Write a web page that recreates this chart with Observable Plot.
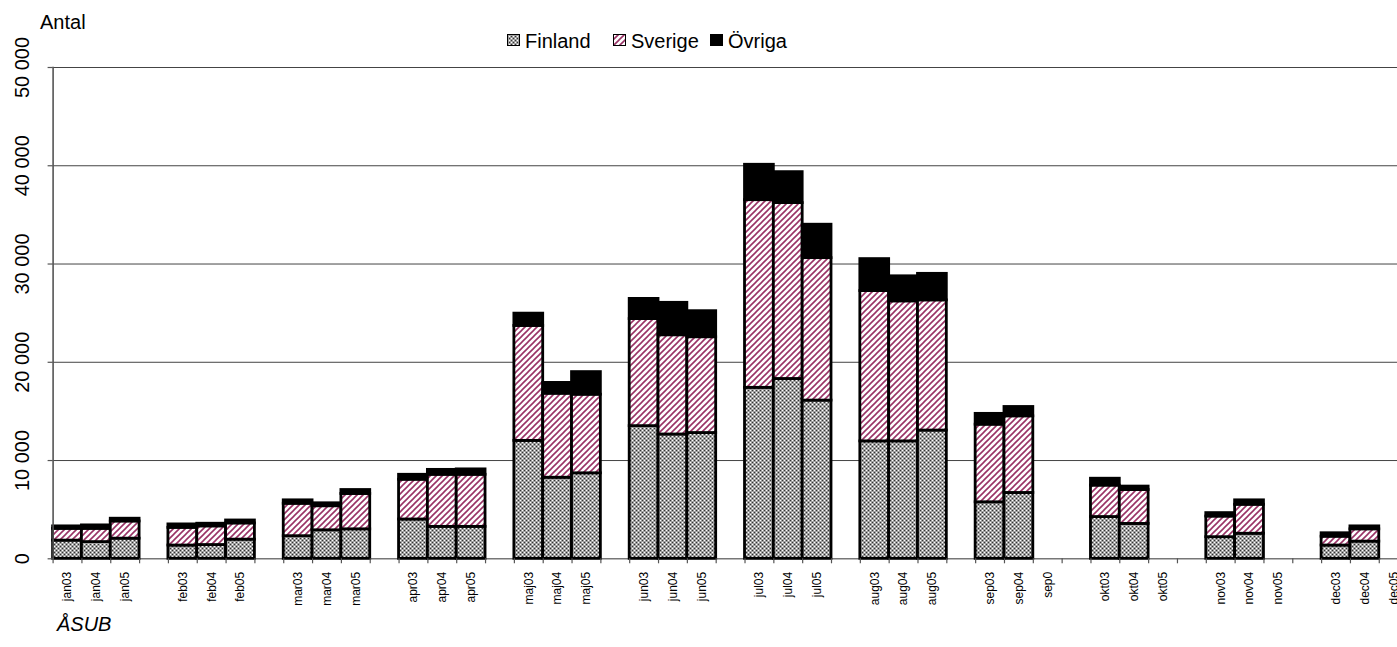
<!DOCTYPE html>
<html>
<head>
<meta charset="utf-8">
<script src="https://cdn.jsdelivr.net/npm/d3@7"></script>
<script src="https://cdn.jsdelivr.net/npm/@observablehq/plot@0.6"></script>
<style>
  html, body { margin: 0; padding: 0; background: #fff; }
  #wrap { position: relative; width: 1397px; height: 647px; overflow: hidden; font-family: "Liberation Sans", Arial, sans-serif; color: #000; }
  .lbl { position: absolute; font-size: 20px; line-height: 20px; white-space: nowrap; }
  .item { position: absolute; top: 30.8px; font-size: 20px; line-height: 20px; white-space: nowrap; display: flex; align-items: flex-start; }
</style>
</head>
<body>
<div id="wrap"></div>
<script>
// ---- data ----
const categories = [
  "jan03","jan04","jan05","g1",
  "feb03","feb04","feb05","g2",
  "mar03","mar04","mar05","g3",
  "apr03","apr04","apr05","g4",
  "maj03","maj04","maj05","g5",
  "jun03","jun04","jun05","g6",
  "jul03","jul04","jul05","g7",
  "aug03","aug04","aug05","g8",
  "sep03","sep04","sep05","g9",
  "okt03","okt04","okt05","g10",
  "nov03","nov04","nov05","g11",
  "dec03","dec04","dec05"
];
const tickLabels = [
  "jan03","jan04","jan05","",
  "feb03","feb04","feb05","",
  "mar03","mar04","mar05","",
  "apr03","apr04","apr05","",
  "maj03","maj04","maj05","",
  "jun03","jun04","jun05","",
  "jul03","jul04","jul05","",
  "aug03","aug04","aug05","",
  "sep03","sep04","sep0","",
  "okt03","okt04","okt05","",
  "nov03","nov04","nov05","",
  "dec03","dec04","dec05"
];
const seriesNames = ["Finland", "Sverige", "Övriga"];
const finland = [1850,1700,2050,null, 1350,1400,1950,null, 2300,2900,3000,null, 4000,3250,3250,null,
  12000,8250,8700,null, 13500,12650,12800,null, 17400,18300,16100,null, 11950,11950,13050,null,
  5750,6700,null,null, 4250,3550,null,null, 2200,2550,null,null, 1350,1750,null];
const sverige = [1200,1350,1750,null, 1800,1900,1650,null, 3300,2450,3600,null, 4050,5300,5300,null,
  11700,8550,8000,null, 10900,10100,9750,null, 19100,17900,14500,null, 15300,14250,13250,null,
  7900,7800,null,null, 3200,3450,null,null, 2100,2950,null,null, 900,1250,null];
const ovriga = [250,350,280,null, 350,270,300,null, 350,300,400,null, 500,500,550,null,
  1250,1100,2300,null, 2050,3300,2650,null, 3600,3150,3400,null, 3250,2550,2700,null,
  1100,950,null,null, 700,350,null,null, 350,450,null,null, 350,300,null];
const yTicks = [0, 10000, 20000, 30000, 40000, 50000];
const yTickLabels = ["0", "10 000", "20 000", "30 000", "40 000", "50 000"];

// ---- build table ----
const seriesValues = [finland, sverige, ovriga];
const rows = [];
categories.forEach((c, i) => {
  seriesNames.forEach((s, k) => {
    const v = seriesValues[k][i];
    if (v != null && v > 0) rows.push({cat: c, series: s, value: v});
  });
});
const labelOf = new Map(categories.map((c, i) => [c, tickLabels[i]]));
const yLabelOf = new Map(yTicks.map((t, i) => [t, yTickLabels[i]]));

const W = 1397, H = 647;
const x0 = 52.6, x1 = 1407.6;
const bw = (x1 - x0) / categories.length;

const chart = Plot.plot({
  width: W,
  height: H,
  marginTop: 67,
  marginBottom: 88.7,
  marginLeft: x0,
  marginRight: 0,
  style: {fontFamily: "Liberation Sans, Arial, sans-serif", fontSize: "11.5px", color: "#000", background: "transparent"},
  x: {type: "band", domain: categories, range: [x0, x1], padding: 0, axis: null, label: null},
  y: {domain: [0, 50000], axis: null, label: null},
  color: {domain: seriesNames, range: ["url(#pFin)", "url(#pSve)", "#000"]},
  marks: [
    Plot.ruleY(yTicks.filter(t => t > 0), {y: d => d, stroke: "#444", strokeWidth: 1}),
    Plot.ruleY([0], {stroke: "#777", strokeWidth: 1.6}),
    Plot.barY(rows, {x: "cat", y: "value", fill: "series", stroke: "#000", strokeWidth: 2.8}),
    Plot.frame({anchor: "left", stroke: "#555", strokeWidth: 1.6}),
    Plot.axisY({ticks: yTicks, tickSize: 5, tickFormat: () => "", label: null, stroke: "#555", strokeWidth: 1.2}),
    Plot.text(yTicks, {y: d => d, text: d => yLabelOf.get(d), frameAnchor: "left", dx: -31, rotate: -90, textAnchor: "middle", lineAnchor: "middle", fontSize: 20}),
    Plot.axisX({ticks: categories, tickSize: 5, tickFormat: () => "", label: null, dx: -bw / 2, stroke: "#555", strokeWidth: 1.2}),
    Plot.axisX({ticks: categories, tickSize: 0, tickPadding: 13, tickRotate: -90, label: null, tickFormat: d => labelOf.get(d), fontSize: 12})
  ]
});

// patterns
const svg = d3.select(chart);
const defs = svg.insert("defs", ":first-child");
const pf = defs.append("pattern").attr("id", "pFin").attr("patternUnits", "userSpaceOnUse").attr("width", 4).attr("height", 4);
pf.append("rect").attr("width", 4).attr("height", 4).attr("fill", "#a0a0a0");
pf.append("rect").attr("x", 0).attr("y", 0).attr("width", 1).attr("height", 1).attr("fill", "#fff");
pf.append("rect").attr("x", 2).attr("y", 2).attr("width", 1).attr("height", 1).attr("fill", "#fff");
pf.append("rect").attr("x", 2).attr("y", 0).attr("width", 1).attr("height", 1).attr("fill", "#333");
pf.append("rect").attr("x", 0).attr("y", 2).attr("width", 1).attr("height", 1).attr("fill", "#333");
const ps = defs.append("pattern").attr("id", "pSve").attr("patternUnits", "userSpaceOnUse").attr("width", 6).attr("height", 6);
ps.append("rect").attr("width", 6).attr("height", 6).attr("fill", "#fff");
ps.append("path").attr("d", "M-1,1 L1,-1 M0,6 L6,0 M5,7 L7,5").attr("stroke", "#993366").attr("stroke-width", 1.6);

const wrap = document.getElementById("wrap");
wrap.appendChild(chart);
chart.style.position = "absolute";
chart.style.left = "0px";
chart.style.top = "0px";

// titles
function addLabel(text, left, top, extra) {
  const d = document.createElement("div");
  d.className = "lbl";
  d.textContent = text;
  d.style.left = left + "px";
  d.style.top = top + "px";
  if (extra) Object.assign(d.style, extra);
  wrap.appendChild(d);
}
addLabel("Antal", 40, 12);
addLabel("ÅSUB", 57, 614, {fontStyle: "italic"});

// legend
const legendFills = {Finland: "url(#pFin)", Sverige: "url(#pSve)", "Övriga": "#000"};
const legendLeft = [507, 613, 710];
seriesNames.forEach((s, i) => {
  const it = document.createElement("div");
  it.className = "item";
  it.style.left = legendLeft[i] + "px";
  const sw = document.createElementNS("http://www.w3.org/2000/svg", "svg");
  sw.setAttribute("width", 13);
  sw.setAttribute("height", 12);
  sw.style.marginTop = "3.5px";
  sw.style.marginRight = "5px";
  const r = document.createElementNS("http://www.w3.org/2000/svg", "rect");
  r.setAttribute("x", 0.5); r.setAttribute("y", 0.5);
  r.setAttribute("width", 12); r.setAttribute("height", 11);
  r.setAttribute("fill", legendFills[s]);
  r.setAttribute("stroke", "#000");
  r.setAttribute("stroke-width", 1);
  sw.appendChild(r);
  it.appendChild(sw);
  const t = document.createElement("span");
  t.textContent = s;
  it.appendChild(t);
  wrap.appendChild(it);
});
</script>
</body>
</html>
